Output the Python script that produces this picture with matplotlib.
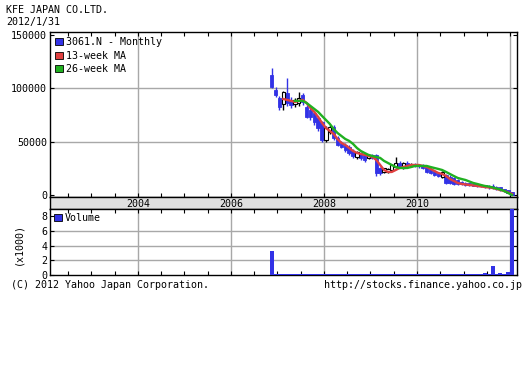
import matplotlib
matplotlib.use("Agg")
import matplotlib.pyplot as plt
from matplotlib.patches import Rectangle
from matplotlib.ticker import MultipleLocator
import numpy as np

### Data: monthly candles, prices in 1000 yen, volume in 1000 shares

months = ["2006-11", "2006-12",
          "2007-01", "2007-02", "2007-03", "2007-04", "2007-05", "2007-06",
          "2007-07", "2007-08", "2007-09", "2007-10", "2007-11", "2007-12",
          "2008-01", "2008-02", "2008-03", "2008-04", "2008-05", "2008-06",
          "2008-07", "2008-08", "2008-09", "2008-10", "2008-11", "2008-12",
          "2009-01", "2009-02", "2009-03", "2009-04", "2009-05", "2009-06",
          "2009-07", "2009-08", "2009-09", "2009-10", "2009-11", "2009-12",
          "2010-01", "2010-02", "2010-03", "2010-04", "2010-05", "2010-06",
          "2010-07", "2010-08", "2010-09", "2010-10", "2010-11", "2010-12",
          "2011-01", "2011-02", "2011-03", "2011-04", "2011-05", "2011-06",
          "2011-07", "2011-08", "2011-09", "2011-10", "2011-11", "2011-12",
          "2012-01"]

opens = [112.7, 98.6, 91.2, 85.6, 95.8, 89.3, 85.6, 86.5, 94.0, 82.7, 79.9, 77.1,
         72.5, 68.7, 51.9, 59.4, 64.0, 53.8, 49.1, 47.2, 45.3, 41.6, 36.0, 39.7,
         37.9, 35.1, 37.9, 37.9, 25.7, 22.0, 22.0, 23.8, 26.6, 30.4, 25.7, 30.4,
         28.5, 29.4, 28.0, 27.6, 27.6, 24.8, 22.9, 21.0, 17.3, 19.2, 17.3, 16.4,
         14.5, 12.6, 11.7, 11.2, 10.8, 10.3, 9.8, 9.4, 8.9, 8.4, 8.0, 7.5,
         6.1, 5.1, 2.8]
highs = [119.0, 101.0, 93.0, 98.0, 110.0, 92.0, 91.0, 97.0, 96.0, 85.0, 82.0, 79.0,
         74.0, 70.0, 65.0, 66.0, 66.0, 56.0, 51.0, 49.0, 47.0, 43.0, 42.0, 41.0,
         39.0, 38.5, 39.0, 39.0, 27.0, 26.0, 26.0, 29.5, 36.0, 32.0, 31.0, 32.0,
         30.0, 30.0, 29.0, 29.0, 28.0, 26.0, 24.0, 22.0, 23.0, 20.0, 19.0, 17.0,
         15.0, 13.5, 12.5, 12.0, 11.5, 11.0, 10.5, 10.0, 9.5, 11.0, 8.5, 8.0,
         6.5, 5.5, 3.2]
lows = [100.0, 92.0, 80.0, 80.0, 84.0, 82.0, 83.0, 84.0, 85.0, 72.0, 71.0, 66.0,
        60.0, 50.0, 50.0, 57.0, 52.0, 46.0, 44.0, 41.0, 38.0, 35.0, 34.0, 33.0,
        31.0, 34.0, 34.0, 18.0, 19.0, 21.0, 21.0, 23.0, 26.0, 26.0, 25.0, 27.0,
        27.0, 27.0, 26.0, 25.0, 21.0, 20.0, 18.0, 17.0, 16.5, 11.0, 10.5, 9.5,
        9.5, 9.5, 9.0, 8.5, 8.5, 8.0, 7.5, 7.0, 6.5, 6.0, 5.5, 4.5,
        3.5, 2.0, 0.0]
closes = [101.4, 94.0, 82.7, 96.8, 86.5, 84.6, 89.3, 91.2, 87.4, 73.4, 73.4, 68.7,
          63.1, 51.9, 63.1, 64.0, 53.8, 47.2, 45.3, 42.5, 39.7, 36.9, 40.7, 35.1,
          33.2, 37.9, 35.1, 21.0, 21.0, 25.7, 24.8, 28.5, 30.4, 26.6, 30.4, 28.5,
          29.4, 28.0, 27.6, 26.0, 22.0, 21.0, 19.2, 18.2, 22.0, 11.7, 11.7, 10.8,
          10.8, 10.8, 9.8, 9.4, 8.9, 8.9, 8.4, 7.9, 7.5, 7.0, 6.1, 5.1,
          4.2, 2.3, 0.9]

# 13-week MA starts at the 4th month, 26-week MA at the 7th
ma13_start = 3
ma13 = [90.2, 89.3, 88.4, 87.4, 88.4, 89.3, 86.5, 81.8, 78.1, 73.4, 67.8, 63.1,
        60.3, 57.5, 52.8, 49.1, 47.2, 44.4, 41.6, 39.7, 38.8, 37.9, 36.9, 36.0,
        33.2, 28.5, 23.8, 22.0, 22.0, 23.8, 25.7, 26.6, 27.6, 28.5, 28.5, 28.5,
        27.6, 26.6, 24.8, 22.9, 21.0, 20.1, 18.2, 15.4, 13.6, 11.7, 10.8, 10.3,
        9.8, 9.4, 8.9, 8.4, 7.9, 7.5, 7.0, 6.1, 5.1, 4.2, 2.8, 1.4]
ma26_start = 6
ma26 = [88.4, 88.4, 88.4, 86.5, 83.7, 80.9, 78.1, 74.3, 70.6, 66.9, 62.2, 58.4,
        55.6, 52.8, 51.0, 48.2, 44.4, 41.6, 39.7, 37.9, 36.9, 36.0, 35.1, 32.3,
        30.4, 28.5, 26.6, 25.7, 25.7, 25.7, 26.6, 27.6, 27.6, 27.6, 27.6, 26.6,
        25.7, 24.8, 23.8, 22.0, 20.1, 18.2, 16.4, 15.4, 14.5, 13.1, 11.7, 10.8,
        9.8, 8.9, 8.4, 7.5, 6.5, 5.6, 4.2, 2.3, 0.5]

volume = [3.2, 0.15, 0.15, 0.12, 0.12, 0.12, 0.12, 0.12, 0.12, 0.12, 0.12, 0.12,
          0.12, 0.15, 0.12, 0.12, 0.12, 0.12, 0.12, 0.12, 0.12, 0.12, 0.12, 0.12,
          0.12, 0.12, 0.12, 0.12, 0.15, 0.12, 0.12, 0.12, 0.12, 0.12, 0.12, 0.12,
          0.12, 0.12, 0.12, 0.12, 0.12, 0.12, 0.12, 0.12, 0.12, 0.12, 0.12, 0.12,
          0.12, 0.12, 0.12, 0.12, 0.15, 0.12, 0.12, 0.25, 0.15, 1.2, 0.15, 0.3,
          0.15, 0.5, 9.5]

year_labels = [2004, 2006, 2008, 2010]
grid_years = [2004, 2006, 2008, 2010, 2012]

### Colours / fonts

blue = "#3232e6"
red = "#e04040"
green = "#20b020"
gridc = "#a8a8a8"
font = "DejaVu Sans Mono"
fs = 7.2

# month string -> decimal year (middle of month)
x = np.array([int(m[:4]) + (int(m[5:]) - 0.5) / 12 for m in months])
o = np.array(opens) * 1000
h = np.array(highs) * 1000
l = np.array(lows) * 1000
c = np.array(closes) * 1000

fig = plt.figure(figsize=(5.30, 3.84), dpi=100)
W, H = 530.0, 384.0
def box(x0, y0, x1, y1):
    return [x0 / W, 1 - y1 / H, (x1 - x0) / W, (y1 - y0) / H]

ax = fig.add_axes(box(50, 32.3, 517, 197.3))
ax_band = fig.add_axes(box(50, 197.3, 517, 209))
ax_vol = fig.add_axes(box(50, 209, 517, 275.3))

xlim = (2002.11, 2012.15)

### Price panel

up = c >= o
ax.vlines(x[~up], l[~up], h[~up], color=blue, lw=1, zorder=3)
ax.vlines(x[up], l[up], h[up], color="black", lw=1, zorder=3)
body_lo = np.minimum(o, c)
body_h = np.maximum(np.abs(c - o), 400)
ax.bar(x[~up], body_h[~up], bottom=body_lo[~up], width=0.072, color=blue,
       edgecolor=blue, lw=0.6, zorder=4)
ax.bar(x[up], body_h[up], bottom=body_lo[up], width=0.072, color="white",
       edgecolor="black", lw=0.8, zorder=4)

ax.plot(x[ma13_start:], np.array(ma13) * 1000, color=red, lw=1.7, zorder=5)
ax.plot(x[ma26_start:], np.array(ma26) * 1000, color=green, lw=1.7, zorder=5)

ax.set_xlim(*xlim)
ax.set_ylim(-1700, 152500)
ax.set_yticks([0, 50000, 100000, 150000])
ax.set_yticklabels(["0", "50000", "100000", "150000"], family=font, fontsize=fs)
ax.set_xticks(grid_years)
ax.xaxis.set_minor_locator(MultipleLocator(0.5))
ax.set_xticklabels([])
ax.tick_params(which="both", direction="in", top=True, right=True, length=3,
               width=0.8, pad=2)
for yv in [50000, 100000]:
    ax.axhline(yv, color=gridc, lw=1, zorder=1)
for gy in grid_years:
    ax.axvline(gy, color=gridc, lw=1, zorder=1)

handles = [Rectangle((0, 0), 1, 1, facecolor=blue, edgecolor="black", lw=0.6),
           Rectangle((0, 0), 1, 1, facecolor=red, edgecolor="black", lw=0.6),
           Rectangle((0, 0), 1, 1, facecolor=green, edgecolor="black", lw=0.6)]
ax.legend(handles, ["3061.N - Monthly", "13-week MA", "26-week MA"],
          loc="upper left", frameon=False, prop={"family": font, "size": fs},
          handlelength=0.75, handleheight=0.75, handletextpad=0.3,
          labelspacing=0.35, borderaxespad=0.4, borderpad=0.1)

### Date band

ax_band.set_facecolor("#e0e0e0")
ax_band.set_xlim(*xlim)
ax_band.set_ylim(0, 1)
ax_band.set_xticks([])
ax_band.set_yticks([])
for yr in year_labels:
    ax_band.text(yr, 0.45, str(yr), ha="center", va="center", family=font,
                 fontsize=fs)

### Volume panel

ax_vol.bar(x, volume, width=1 / 12, color=blue, edgecolor="none", zorder=3)
ax_vol.set_xlim(*xlim)
ax_vol.set_ylim(0, 8.9)
ax_vol.set_yticks([0, 2, 4, 6, 8])
ax_vol.set_yticklabels(["0", "2", "4", "6", "8"], family=font, fontsize=fs)
ax_vol.set_xticks(grid_years)
ax_vol.xaxis.set_minor_locator(MultipleLocator(0.5))
ax_vol.set_xticklabels([])
ax_vol.tick_params(which="both", direction="in", top=True, right=True, length=3,
                   width=0.8, pad=2)
for yv in [2, 4, 6]:
    ax_vol.axhline(yv, color=gridc, lw=1, zorder=1)
for gy in grid_years:
    ax_vol.axvline(gy, color=gridc, lw=1, zorder=1)
ax_vol.legend([Rectangle((0, 0), 1, 1, facecolor=blue, edgecolor="black", lw=0.6)],
              ["Volume"], loc="upper left", frameon=False,
              prop={"family": font, "size": fs}, handlelength=0.75,
              handleheight=0.75, handletextpad=0.3, borderaxespad=0.3,
              borderpad=0.1)

for a in [ax, ax_band, ax_vol]:
    for s in a.spines.values():
        s.set_color("black")
        s.set_linewidth(1)

### Header / footer text

fig.text(6 / W, 1 - 10 / H, "KFE JAPAN CO.LTD.", family=font, fontsize=fs,
         va="center")
fig.text(6 / W, 1 - 22 / H, "2012/1/31", family=font, fontsize=fs, va="center")
fig.text(18.5 / W, 1 - 244 / H, "(x1000)", family=font, fontsize=fs,
         rotation=90, ha="center", va="center")
fig.text(11 / W, 1 - 285.5 / H, "(C) 2012 Yahoo Japan Corporation.", family=font,
         fontsize=fs, va="center")
fig.text(522 / W, 1 - 285.5 / H, "http://stocks.finance.yahoo.co.jp", family=font,
         fontsize=fs, va="center", ha="right")

plt.savefig("out.png", dpi=100)
